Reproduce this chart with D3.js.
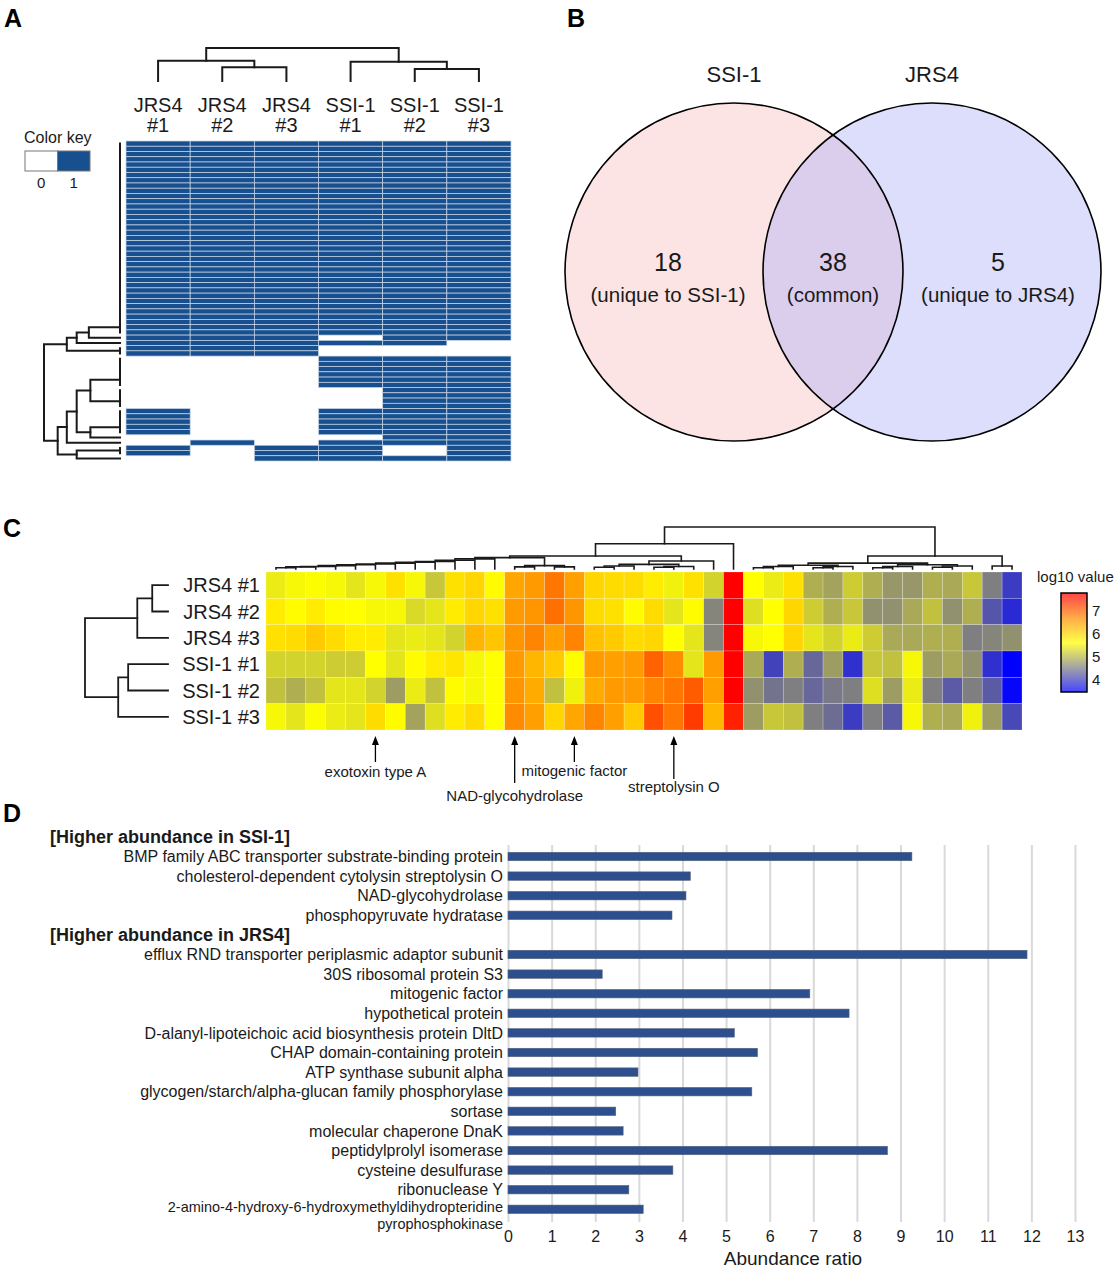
<!DOCTYPE html>
<html>
<head>
<meta charset="utf-8">
<script src="https://cdn.jsdelivr.net/npm/d3@7"></script>
<style>
  html, body { margin: 0; padding: 0; background: #fff; }
  svg { display: block; font-family: 'Liberation Sans', Arial, sans-serif; }
</style>
</head>
<body>
<svg width="1116" height="1268"></svg>
<script>
// ---- Amostras
const sampleNames = ['JRS4 #1', 'JRS4 #2', 'JRS4 #3', 'SSI-1 #1', 'SSI-1 #2', 'SSI-1 #3'];

// ---- Painel A: presença (1) / ausência (0), blocos de linhas iguais [padrão, nº de linhas]
const presenceRuns = [
    [[1, 1, 1, 1, 1, 1], 37],
    [[1, 1, 1, 0, 1, 1], 1],
    [[1, 1, 1, 1, 1, 0], 1],
    [[1, 1, 1, 0, 0, 0], 2],
    [[0, 0, 0, 1, 1, 1], 6],
    [[0, 0, 0, 0, 1, 1], 4],
    [[1, 0, 0, 1, 1, 1], 5],
    [[0, 0, 0, 0, 1, 1], 1],
    [[0, 1, 0, 1, 1, 1], 1],
    [[1, 0, 1, 1, 0, 1], 2],
    [[0, 0, 1, 1, 1, 1], 1]
];

// árvore: [altura, filho, filho] ; folha = índice
const same = (from, to) => d3.range(from + 1, to + 1).reduce((acc, i) => [0, acc, i], from);
const rowTreeA = [1.0,
    [0.70, [0.57, [0.41, same(0, 36), 37], 38], same(39, 40)],
    [0.82,
        [0.70, [0.57, [0.39, same(41, 46), same(47, 50)], [0.39, same(51, 55), 56]], 57],
        [0.57, same(58, 59), 60]]
];
const colTreeA = [1.0, [0.61, 0, [0.42, 1, 2]], [0.58, 3, [0.36, 4, 5]]];

// ---- Painel B: Venn
const vennSets = ['SSI-1', 'JRS4'];
const vennCounts = [18, 38, 5];
const vennNotes = ['(unique to SSI-1)', '(common)', '(unique to JRS4)'];

// ---- Painel C: log10 da abundância (6 amostras x 38 proteínas comuns)
const heatValues = [
    [5.45, 5.55, 5.6, 5.55, 5.4, 5.55, 5.9, 5.55, 5.15, 5.9, 6.0, 5.65,
     6.45, 6.55, 6.85, 6.5, 6.0, 5.95, 5.95, 5.8, 5.5, 5.9, 5.25, 7.75,
     5.62, 5.45, 5.9, 4.95, 4.85, 5.2, 4.95, 4.75, 4.75, 4.95, 4.9, 5.15, 4.55, 4.0],
    [5.8, 5.65, 5.8, 5.65, 5.62, 5.55, 5.55, 5.3, 5.4, 5.8, 6.0, 5.9,
     6.55, 6.6, 6.9, 6.6, 5.95, 5.9, 5.65, 5.95, 5.4, 5.65, 4.6, 7.75,
     5.35, 5.62, 6.0, 5.2, 4.95, 5.15, 4.7, 4.7, 4.9, 5.1, 4.7, 4.95, 4.2, 3.85],
    [5.9, 5.95, 6.1, 5.95, 5.8, 5.8, 5.4, 5.45, 5.4, 5.25, 6.3, 6.15,
     6.6, 6.75, 6.5, 6.75, 6.2, 6.1, 5.95, 6.0, 5.62, 5.4, 4.6, 7.75,
     5.55, 5.62, 6.0, 5.4, 5.25, 5.45, 5.2, 4.9, 4.9, 4.95, 4.95, 4.55, 4.6, 4.7],
    [5.25, 5.25, 5.25, 5.2, 5.2, 5.62, 5.4, 5.65, 5.8, 5.85, 5.55, 5.62,
     6.55, 6.3, 6.1, 5.65, 6.55, 6.5, 6.55, 7.0, 6.7, 5.4, 6.55, 7.75,
     4.9, 4.05, 4.95, 4.35, 4.8, 3.9, 5.15, 5.1, 5.55, 4.8, 4.9, 4.7, 3.9, 3.5],
    [5.1, 4.95, 5.1, 5.4, 5.4, 5.25, 4.8, 5.45, 5.1, 5.65, 5.55, 5.62,
     6.6, 6.4, 5.1, 5.5, 6.4, 6.55, 6.55, 6.75, 6.85, 7.05, 6.5, 7.75,
     4.7, 4.45, 4.55, 4.35, 4.5, 4.55, 5.35, 4.8, 5.45, 4.55, 4.25, 4.55, 4.25, 3.55],
    [5.55, 5.4, 5.6, 5.45, 5.4, 5.95, 5.65, 4.85, 5.35, 5.8, 5.95, 5.62,
     6.7, 6.5, 6.0, 6.45, 6.75, 6.5, 6.1, 7.15, 6.85, 7.3, 6.3, 7.5,
     4.8, 5.15, 5.1, 4.55, 4.4, 4.0, 4.55, 4.25, 5.55, 4.95, 4.9, 5.5, 4.8, 4.1]
];
const heatStops = [3.5, 4.56, 5.62, 6.69, 7.75];
const heatColors = ['#0000ff', '#808080', '#ffff00', '#ff8c00', '#ff0000'];
const keyTicks = [4, 5, 6, 7];
const rowTreeC = [1.0, [0.37, [0.19, 0, 1], 2], [0.60, [0.48, 3, 4], 5]];
const yellowChain = [0.24, [0.21, [0.18, [0.16, [0.14, [0.12, [0.10, [0.08, [0.06, [0.05, [0.03, 0, 1], 2], 3], 4], 5], 6], 7], 8], 9], 10], 11];
const colTreeC = [1.0,
    [0.60,
        [0.31,
            [0.27, yellowChain, [0.08, [0.05, 12, 13], [0.05, 14, 15]]],
            [0.19, [0.11, [0.07, [0.04, 16, 17], 18], [0.06, [0.04, 19, 20], 21]], 22]],
        23],
    [0.31,
        [0.14, [0.09, [0.06, [0.03, 24, 25], 26], [0.06, [0.03, 27, 28], 29]], [0.10, [0.06, [0.03, 30, 31], 32], [0.07, [0.04, 33, 34], 35]]],
        [0.07, 36, 37]]
];
const annotations = [
    { label: 'exotoxin type A', col: 5 },
    { label: 'NAD-glycohydrolase', col: 12 },
    { label: 'mitogenic factor', col: 15 },
    { label: 'streptolysin O', col: 20 }
];

// ---- Painel D: razão de abundância
const groupHeaders = ['[Higher abundance in SSI-1]', '[Higher abundance in JRS4]'];
const ssiLabels = ['BMP family ABC transporter substrate-binding protein', 'cholesterol-dependent cytolysin streptolysin O',
    'NAD-glycohydrolase', 'phosphopyruvate hydratase'];
const ssiValues = [9.26, 4.18, 4.08, 3.76];
const jrsLabels = ['efflux RND transporter periplasmic adaptor subunit', '30S ribosomal protein S3', 'mitogenic factor',
    'hypothetical protein', 'D-alanyl-lipoteichoic acid biosynthesis protein DltD', 'CHAP domain-containing protein',
    'ATP synthase subunit alpha', 'glycogen/starch/alpha-glucan family phosphorylase', 'sortase',
    'molecular chaperone DnaK', 'peptidylprolyl isomerase', 'cysteine desulfurase', 'ribonuclease Y',
    '2-amino-4-hydroxy-6-hydroxymethyldihydropteridine\npyrophosphokinase'];
const jrsValues = [11.9, 2.16, 6.92, 7.82, 5.19, 5.72, 2.98, 5.59, 2.47, 2.64, 8.70, 3.78, 2.77, 3.10];
const ratioTicks = d3.range(0, 14);

const svg = d3.select('svg');
const ink = '#1a1a1a';

// ---- Dendrograma genérico (cotovelos)
function drawDendro(g, tree, leafPos, hScale, orient, width) {
    const segs = [];
    (function walk(node) {
        if (typeof node === 'number') return { p: leafPos(node), h: 0 };
        const a = walk(node[1]);
        const b = walk(node[2]);
        segs.push({ h: node[0], pa: a.p, ha: a.h, pb: b.p, hb: b.h });
        return { p: (a.p + b.p) / 2, h: node[0] };
    })(tree);

    g.selectAll('path')
        .data(segs)
        .join('path')
        .attr('d', s => orient === 'left'
            ? `M${hScale(s.ha)},${s.pa}H${hScale(s.h)}V${s.pb}H${hScale(s.hb)}`
            : `M${s.pa},${hScale(s.ha)}V${hScale(s.h)}H${s.pb}V${hScale(s.hb)}`)
        .attr('fill', 'none')
        .attr('stroke', ink)
        .attr('stroke-width', width)
        .attr('stroke-linecap', 'square');
}

function panelLetter(txt, x, y) {
    svg.append('text')
        .attr('x', x).attr('y', y)
        .attr('font-size', '25px')
        .attr('font-weight', '700')
        .attr('fill', '#000')
        .text(txt);
}

// ================= Painel A =================
function drawPanelA() {
    panelLetter('A', 4, 27);
    const presence = presenceRuns.flatMap(([pattern, n]) => d3.range(n).map(() => pattern));
    const x = d3.scaleBand().domain(d3.range(sampleNames.length)).range([126, 511]);
    const y = d3.scaleBand().domain(d3.range(presence.length)).range([141, 461]);
    const blue = '#18508f';

    const g = svg.append('g').attr('id', 'panelA');
    const cells = presence.flatMap((row, r) => row.map((v, c) => ({ r, c, v }))).filter(d => d.v === 1);
    g.selectAll('rect.cell')
        .data(cells)
        .join('rect')
        .attr('class', 'cell')
        .attr('x', d => x(d.c))
        .attr('y', d => y(d.r))
        .attr('width', x.bandwidth())
        .attr('height', y.bandwidth())
        .attr('fill', blue)
        .attr('stroke', '#c9d6e8')
        .attr('stroke-width', 0.7);

    // dendrogramas
    drawDendro(g.append('g'), rowTreeA, i => y(i) + y.bandwidth() / 2,
        d3.scaleLinear().domain([0, 1]).range([120, 44]), 'left', 2);
    drawDendro(g.append('g'), colTreeA, i => x(i) + x.bandwidth() / 2,
        d3.scaleLinear().domain([0, 1]).range([81, 48]), 'top', 2);

    // rótulos das colunas
    const lab = g.selectAll('text.collab')
        .data(sampleNames)
        .join('text')
        .attr('class', 'collab')
        .attr('text-anchor', 'middle')
        .attr('font-size', '20px')
        .attr('fill', ink);
    lab.append('tspan')
        .attr('x', (d, i) => x(i) + x.bandwidth() / 2)
        .attr('y', 112)
        .text(d => d.split(' ')[0]);
    lab.append('tspan')
        .attr('x', (d, i) => x(i) + x.bandwidth() / 2)
        .attr('y', 132)
        .text(d => d.split(' ')[1]);

    // legenda
    const key = g.append('g').attr('id', 'keyA');
    key.append('text').attr('x', 24).attr('y', 143).attr('font-size', '16px').attr('fill', ink).text('Color key');
    const kx = d3.scaleBand().domain([0, 1]).range([25, 90]);
    key.selectAll('rect')
        .data([0, 1])
        .join('rect')
        .attr('x', d => kx(d))
        .attr('y', 151)
        .attr('width', kx.bandwidth())
        .attr('height', 20)
        .attr('fill', d => d ? blue : '#fff')
        .attr('stroke', '#777')
        .attr('stroke-width', 1);
    key.selectAll('text.klab')
        .data([0, 1])
        .join('text')
        .attr('class', 'klab')
        .attr('x', d => kx(d) + kx.bandwidth() / 2)
        .attr('y', 188)
        .attr('text-anchor', 'middle')
        .attr('font-size', '15px')
        .attr('fill', ink)
        .text(d => d);
}

// ================= Painel B =================
function drawPanelB() {
    panelLetter('B', 567, 27);
    const g = svg.append('g').attr('id', 'panelB');
    const cx = d3.scalePoint().domain(vennSets).range([734, 932]);
    const fills = ['#f9c4c4', '#b4b4f8'];

    g.selectAll('circle')
        .data(vennSets)
        .join('circle')
        .attr('cx', d => cx(d))
        .attr('cy', 272)
        .attr('r', 169)
        .attr('fill', (d, i) => fills[i])
        .attr('fill-opacity', 0.45);
    g.selectAll('circle.edge')
        .data(vennSets)
        .join('circle')
        .attr('class', 'edge')
        .attr('cx', d => cx(d))
        .attr('cy', 272)
        .attr('r', 169)
        .attr('fill', 'none')
        .attr('stroke', '#000')
        .attr('stroke-width', 1.6);

    g.selectAll('text.setname')
        .data(vennSets)
        .join('text')
        .attr('class', 'setname')
        .attr('x', d => cx(d))
        .attr('y', 82)
        .attr('text-anchor', 'middle')
        .attr('font-size', '22px')
        .attr('fill', ink)
        .text(d => d);

    const regionX = [668, 833, 998];
    g.selectAll('text.count')
        .data(vennCounts)
        .join('text')
        .attr('class', 'count')
        .attr('x', (d, i) => regionX[i])
        .attr('y', 271)
        .attr('text-anchor', 'middle')
        .attr('font-size', '25px')
        .attr('fill', ink)
        .text(d => d);
    g.selectAll('text.note')
        .data(vennNotes)
        .join('text')
        .attr('class', 'note')
        .attr('x', (d, i) => regionX[i])
        .attr('y', 302)
        .attr('text-anchor', 'middle')
        .attr('font-size', '20.5px')
        .attr('fill', ink)
        .text(d => d);
}

// ================= Painel C =================
function drawPanelC() {
    panelLetter('C', 3, 537);
    const g = svg.append('g').attr('id', 'panelC');
    const nCols = heatValues[0].length;
    const x = d3.scaleBand().domain(d3.range(nCols)).range([266, 1022]);
    const y = d3.scaleBand().domain(d3.range(sampleNames.length)).range([572, 730]);
    const color = d3.scaleLinear().domain(heatStops).range(heatColors).clamp(true);

    const cells = heatValues.flatMap((row, r) => row.map((v, c) => ({ r, c, v })));
    g.selectAll('rect.cell')
        .data(cells)
        .join('rect')
        .attr('class', 'cell')
        .attr('x', d => x(d.c))
        .attr('y', d => y(d.r))
        .attr('width', x.bandwidth())
        .attr('height', y.bandwidth())
        .attr('fill', d => color(d.v))
        .attr('stroke', '#fff')
        .attr('stroke-opacity', 0.35)
        .attr('stroke-width', 0.6);

    drawDendro(g.append('g'), rowTreeC, i => y(i) + y.bandwidth() / 2,
        d3.scaleLinear().domain([0, 1]).range([168, 85]), 'left', 1.8);
    drawDendro(g.append('g'), colTreeC, i => x(i) + x.bandwidth() / 2,
        d3.scaleLinear().domain([0, 1]).range([569, 527]), 'top', 1.6);

    g.selectAll('text.rowlab')
        .data(sampleNames)
        .join('text')
        .attr('class', 'rowlab')
        .attr('x', 260)
        .attr('y', (d, i) => y(i) + y.bandwidth() / 2)
        .attr('dy', '0.36em')
        .attr('text-anchor', 'end')
        .attr('font-size', '20px')
        .attr('fill', ink)
        .text(d => d);

    // setas
    const tails = [762, 783, 762, 779];
    const textY = [777, 801, 776, 792];
    const arrows = g.selectAll('g.arrow')
        .data(annotations)
        .join('g')
        .attr('class', 'arrow');
    arrows.append('line')
        .attr('x1', d => x(d.col) + x.bandwidth() / 2)
        .attr('x2', d => x(d.col) + x.bandwidth() / 2)
        .attr('y1', (d, i) => tails[i])
        .attr('y2', 742)
        .attr('stroke', '#000')
        .attr('stroke-width', 1.3);
    arrows.append('path')
        .attr('d', d => {
            const cx = x(d.col) + x.bandwidth() / 2;
            return `M${cx},736L${cx - 3.5},745L${cx + 3.5},745Z`;
        })
        .attr('fill', '#000');
    arrows.append('text')
        .attr('x', d => x(d.col) + x.bandwidth() / 2)
        .attr('y', (d, i) => textY[i])
        .attr('text-anchor', 'middle')
        .attr('font-size', '15px')
        .attr('fill', ink)
        .text(d => d.label);

    // legenda de cor
    const keyY = d3.scaleLinear().domain([3.48, 7.78]).range([692, 593]);
    const defs = svg.append('defs');
    const grad = defs.append('linearGradient')
        .attr('id', 'heatGrad')
        .attr('gradientUnits', 'userSpaceOnUse')
        .attr('x1', 0).attr('x2', 0)
        .attr('y1', keyY(7.78)).attr('y2', keyY(3.48));
    grad.selectAll('stop')
        .data([7.78, ...heatStops.slice().reverse(), 3.48])
        .join('stop')
        .attr('offset', d => (keyY(d) - keyY(7.78)) / (keyY(3.48) - keyY(7.78)))
        .attr('stop-color', d => color(d));

    g.append('text')
        .attr('x', 1037).attr('y', 582)
        .attr('font-size', '15px')
        .attr('fill', ink)
        .text('log10 value');
    g.append('rect')
        .attr('x', 1061).attr('y', keyY(7.78))
        .attr('width', 26).attr('height', keyY(3.48) - keyY(7.78))
        .attr('fill', 'url(#heatGrad)')
        .attr('fill-opacity', 0.72);
    g.append('rect')
        .attr('x', 1061).attr('y', keyY(7.78))
        .attr('width', 26).attr('height', keyY(3.48) - keyY(7.78))
        .attr('fill', 'none')
        .attr('stroke', '#000')
        .attr('stroke-width', 1.5);
    g.selectAll('text.ktick')
        .data(keyTicks)
        .join('text')
        .attr('class', 'ktick')
        .attr('x', 1092)
        .attr('y', d => keyY(d))
        .attr('dy', '0.36em')
        .attr('font-size', '15px')
        .attr('fill', ink)
        .text(d => d);
}

// ================= Painel D =================
function drawPanelD() {
    panelLetter('D', 3, 822);
    const g = svg.append('g').attr('id', 'panelD');
    const rows = [
        { label: groupHeaders[0], header: true },
        ...ssiLabels.map((l, i) => ({ label: l, value: ssiValues[i] })),
        { label: groupHeaders[1], header: true },
        ...jrsLabels.map((l, i) => ({ label: l, value: jrsValues[i] }))
    ];
    const x = d3.scaleLinear().domain([0, 13]).range([508, 1075]);
    const y = d3.scaleBand().domain(d3.range(rows.length)).range([827, 1219]);

    // grade
    const grid = g.append('g')
        .attr('transform', 'translate(0, 1222)')
        .call(d3.axisBottom(x).tickValues(ratioTicks).tickSize(-377).tickFormat(''));
    grid.select('.domain').remove();
    grid.selectAll('line').attr('stroke', '#d9d9d9').attr('stroke-width', 2);

    const axis = g.append('g')
        .attr('transform', 'translate(0, 1222)')
        .call(d3.axisBottom(x).tickValues(ratioTicks).tickSize(0).tickPadding(9));
    axis.select('.domain').remove();
    axis.selectAll('text')
        .attr('font-size', '16px')
        .attr('font-family', "'Liberation Sans', Arial, sans-serif")
        .attr('fill', ink);

    g.append('text')
        .attr('x', 793).attr('y', 1265)
        .attr('text-anchor', 'middle')
        .attr('font-size', '19px')
        .attr('fill', ink)
        .text('Abundance ratio');

    const bars = rows.map((d, i) => ({ ...d, i })).filter(d => !d.header);
    g.selectAll('rect.bar')
        .data(bars)
        .join('rect')
        .attr('class', 'bar')
        .attr('x', x(0))
        .attr('y', d => y(d.i) + y.bandwidth() * 0.29)
        .attr('width', d => x(d.value) - x(0))
        .attr('height', y.bandwidth() * 0.43)
        .attr('fill', '#2e4f8e')
        .attr('stroke', '#55627a')
        .attr('stroke-width', 0.6);

    const labels = g.selectAll('text.lab')
        .data(rows.map((d, i) => ({ ...d, i })))
        .join('text')
        .attr('class', 'lab')
        .attr('fill', ink);
    labels.filter(d => d.header)
        .attr('x', 50)
        .attr('y', d => y(d.i) + y.bandwidth() / 2)
        .attr('dy', '0.36em')
        .attr('font-size', '18px')
        .attr('font-weight', '700')
        .text(d => d.label);
    labels.filter(d => !d.header)
        .attr('text-anchor', 'end')
        .attr('font-size', d => d.label.includes('\n') ? '14.5px' : '16px')
        .each(function (d) {
            const parts = d.label.split('\n');
            const yc = y(d.i) + y.bandwidth() / 2;
            d3.select(this).selectAll('tspan')
                .data(parts)
                .join('tspan')
                .attr('x', 503)
                .attr('y', (p, k) => yc + (parts.length > 1 ? k * 16.4 - 2 : 0))
                .attr('dy', '0.36em')
                .text(p => p);
        });
}

drawPanelA();
drawPanelB();
drawPanelC();
drawPanelD();
</script>
</body>
</html>
